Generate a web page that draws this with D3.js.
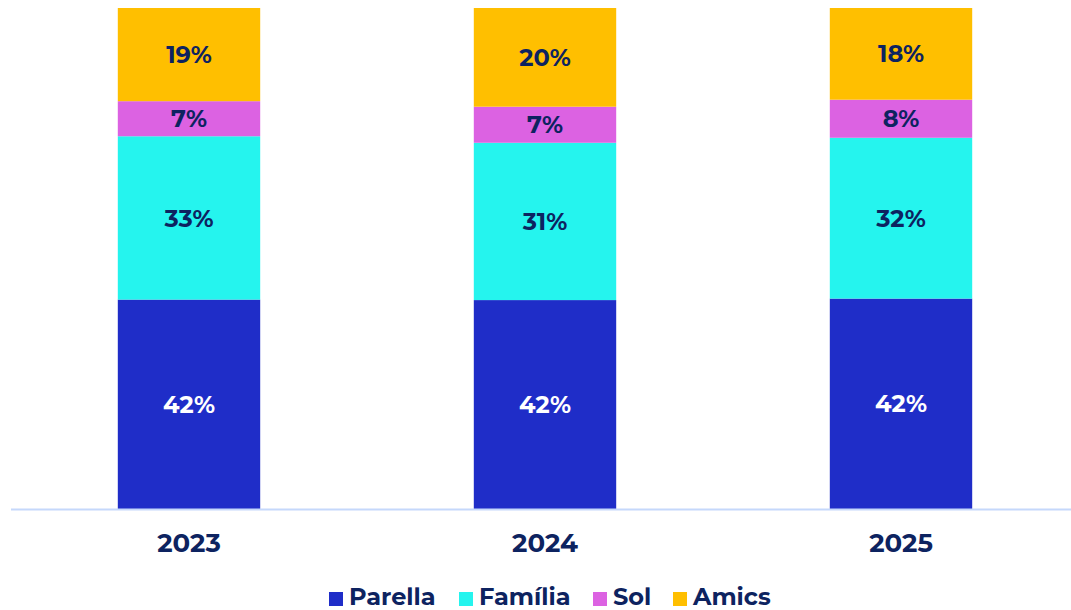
<!DOCTYPE html>
<html>
<head>
<meta charset="utf-8">
<script src="https://cdn.jsdelivr.net/npm/d3@7"></script>
<style>
  body { margin: 0; background: #fff; }
  svg { display: block; font-family: Montserrat, "DejaVu Sans", sans-serif; font-weight: bold; }
</style>
</head>
<body>
<svg id="chart" width="1071" height="610"></svg>
<script>
const years = ['2023', '2024', '2025'];
const groups = ['Parella', 'Família', 'Sol', 'Amics'];
const parella = [41.8, 41.7, 42.0];
const familia = [32.6, 31.4, 32.1];
const sol = [7.0, 7.2, 7.6];
const amics = [18.6, 19.7, 18.3];

const colors = ['#1f2dc8', '#25f4ee', '#dc62e2', '#ffbf00'];
const labelColors = ['#ffffff', '#0d2360', '#0d2360', '#0d2360'];

const rows = years.map((y, i) => ({
    year: y,
    'Parella': parella[i],
    'Família': familia[i],
    'Sol': sol[i],
    'Amics': amics[i]
}));

const svg = d3.select('#chart');
const width = +svg.attr('width');

const margin = {top: 8, bottom: 101, left: 11, right: -8};
const baseline = 610 - margin.bottom;

const x = d3.scaleBand()
    .domain(years)
    .range([margin.left, width - margin.right])
    .paddingInner(0.6)
    .paddingOuter(0.3);

const y = d3.scaleLinear()
    .domain([0, 100])
    .range([baseline, margin.top]);

const stack = d3.stack().keys(groups);
const series = stack(rows);

const layer = svg.selectAll('g.layer')
    .data(series)
    .join('g')
    .attr('class', 'layer')
    .attr('fill', (d, i) => colors[i]);

layer.selectAll('rect')
    .data(d => d)
    .join('rect')
    .attr('x', d => x(d.data.year))
    .attr('width', x.bandwidth())
    .attr('y', d => y(d[1]))
    .attr('height', d => y(d[0]) - y(d[1]));

layer.selectAll('text')
    .data((d, i) => d.map(v => ({v, i, key: d.key})))
    .join('text')
    .attr('x', d => x(d.v.data.year) + x.bandwidth() / 2)
    .attr('y', d => (y(d.v[0]) + y(d.v[1])) / 2)
    .attr('dy', '0.36em')
    .attr('text-anchor', 'middle')
    .attr('font-size', 24)
    .attr('fill', d => labelColors[d.i])
    .text(d => Math.round(d.v.data[d.key]) + '%');

// axis baseline
const xAxis = svg.append('g')
    .attr('transform', `translate(0, ${baseline})`)
    .call(d3.axisBottom(x).tickSize(0).tickPadding(25));
xAxis.select('.domain')
    .attr('d', `M${margin.left},0.5H${width}`)
    .attr('stroke', '#c5d8fb')
    .attr('stroke-width', 2);
xAxis.selectAll('text')
    .attr('font-size', 26)
    .attr('font-family', 'Montserrat, "DejaVu Sans", sans-serif')
    .attr('font-weight', 'bold')
    .attr('fill', '#0d2360');

// legend
const legendX = [329, 459, 593, 673];
const legend = svg.append('g')
    .selectAll('g')
    .data(groups)
    .join('g')
    .attr('transform', (d, i) => `translate(${legendX[i]}, 592)`);

legend.append('rect')
    .attr('width', 14)
    .attr('height', 14)
    .attr('fill', (d, i) => colors[i]);

legend.append('text')
    .attr('x', 20)
    .attr('y', 13)
    .attr('font-size', 24)
    .attr('fill', '#0d2360')
    .text(d => d);
</script>
</body>
</html>
